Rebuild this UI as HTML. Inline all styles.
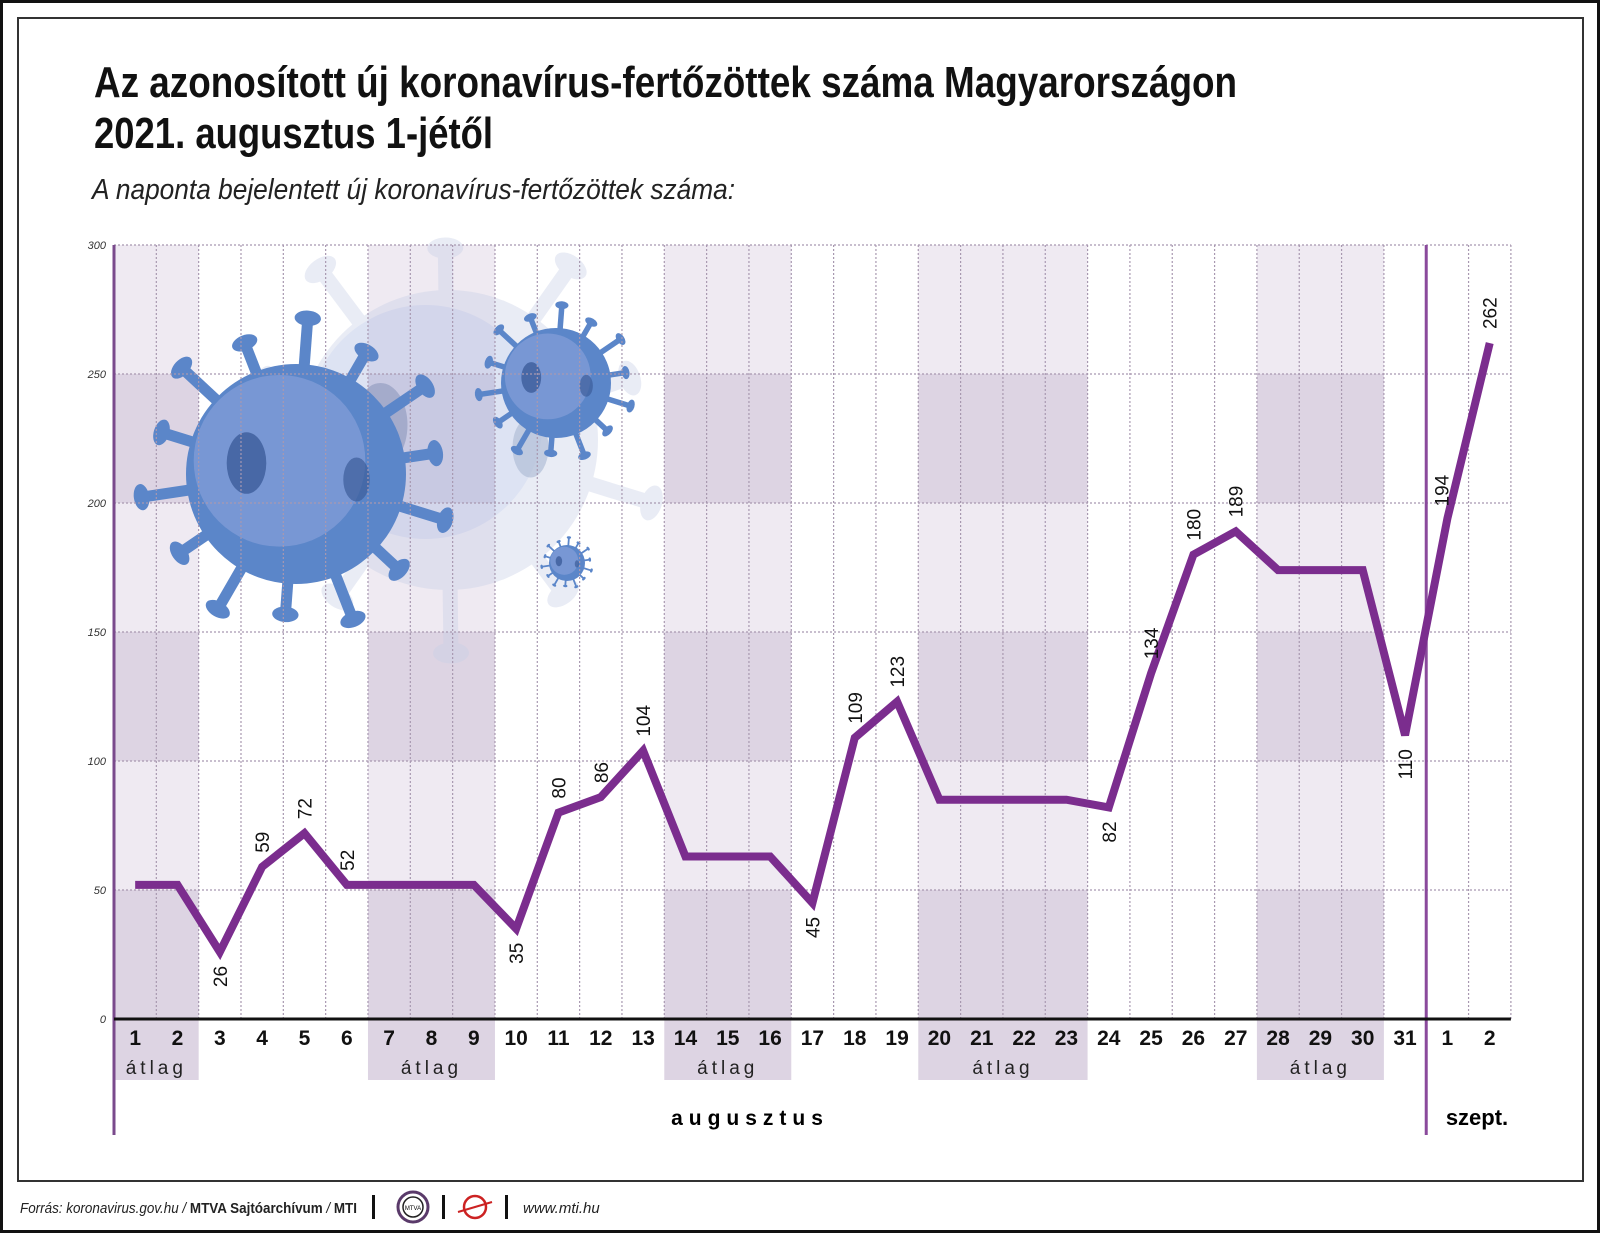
<!DOCTYPE html>
<html><head><meta charset="utf-8"><style>
html,body{margin:0;padding:0;background:#fff}
svg{display:block}
text{font-family:"Liberation Sans Narrow","Liberation Sans",sans-serif}
</style></head><body>
<svg id="chart" width="1600" height="1233" viewBox="0 0 1600 1233" xmlns="http://www.w3.org/2000/svg">
<rect x="1.5" y="1.5" width="1597" height="1230" fill="#fff" stroke="#111" stroke-width="3"/>
<rect x="18" y="18" width="1565" height="1163" fill="none" stroke="#333" stroke-width="2"/>
<text x="94" y="97" font-size="44" font-weight="bold" textLength="1143" lengthAdjust="spacingAndGlyphs" fill="#111">Az azonosított új koronavírus-fertőzöttek száma Magyarországon</text>
<text x="94" y="148" font-size="44" font-weight="bold" textLength="399" lengthAdjust="spacingAndGlyphs" fill="#111">2021. augusztus 1-jétől</text>
<text x="92" y="199" font-size="29" font-style="italic" textLength="643" lengthAdjust="spacingAndGlyphs" fill="#222">A naponta bejelentett új koronavírus-fertőzöttek száma:</text>
<g id="bands"></g>
<g id="virus"></g>
<g id="grid"></g>
<g id="axes"></g>
<g id="series"></g>
<text x="750" y="1125" font-size="21" font-weight="bold" text-anchor="middle" letter-spacing="6" font-family="Liberation Sans, sans-serif">augusztus</text>
<text x="1477" y="1125" font-size="22" font-weight="bold" text-anchor="middle">szept.</text>
<g>
<text x="20" y="1213" font-size="15" font-style="italic" fill="#222" textLength="337" lengthAdjust="spacingAndGlyphs">Forrás: koronavirus.gov.hu / <tspan font-weight="bold" font-style="normal">MTVA Sajtóarchívum</tspan> / <tspan font-weight="bold" font-style="normal">MTI</tspan></text>
<rect x="372" y="1195" width="3" height="24" fill="#111"/>
<circle cx="413" cy="1207" r="15" fill="none" stroke="#5a3a6a" stroke-width="3"/>
<circle cx="413" cy="1207" r="10" fill="none" stroke="#222" stroke-width="1.5"/>
<text x="413" y="1210" font-size="6" text-anchor="middle">MTVA</text>
<rect x="442" y="1195" width="3" height="24" fill="#111"/>
<circle cx="475" cy="1207" r="11" fill="none" stroke="#c22" stroke-width="2.5"/>
<line x1="458" y1="1212" x2="492" y2="1202" stroke="#c22" stroke-width="2"/>
<rect x="505" y="1195" width="3" height="24" fill="#111"/>
<text x="523" y="1213" font-size="15" font-style="italic" fill="#222">www.mti.hu</text>
</g>
</svg>
<script>
const dayLabels = ["1","2","3","4","5","6","7","8","9","10","11","12","13","14","15","16","17","18","19","20","21","22","23","24","25","26","27","28","29","30","31","1","2"];
const values = [52,52,26,59,72,52,52,52,52,35,80,86,104,63,63,63,45,109,123,85,85,85,85,82,134,180,189,174,174,174,110,194,262];
const valueLabels = ["","","26","59","72","52","","","","35","80","86","104","","","","45","109","123","","","","","82","134","180","189","","","","110","194","262"];
const labelBelow = [0,0,1,0,0,0,0,0,0,1,0,0,0,0,0,0,1,0,0,0,0,0,0,1,0,0,0,0,0,0,1,0,0];
const avgGroups = [[0,1],[6,8],[13,15],[19,22],[27,29]];
const yTicks = [0,50,100,150,200,250,300];

const NS="http://www.w3.org/2000/svg";
const X0=114, CW=42.33, Y0=1019, YPX=129/50;
const xs=i=>X0+CW*(i+0.5);
const ys=v=>Y0-v*YPX;
function mk(tag,attrs,parent){const e=document.createElementNS(NS,tag);for(const k in attrs)e.setAttribute(k,attrs[k]);parent.appendChild(e);return e;}
const bands=document.getElementById('bands'),grid=document.getElementById('grid'),axes=document.getElementById('axes'),series=document.getElementById('series'),virus=document.getElementById('virus');

avgGroups.forEach(g=>{
  const x=X0+CW*g[0], w=CW*(g[1]-g[0]+1);
  for(let k=0;k<6;k++){
    const r=mk('rect',{x:x,y:ys((k+1)*50),width:w,height:50*YPX,fill:k%2===0?'#ddd4e3':'#efeaf2'},bands);
    
    
  }
  const b=mk('rect',{x:x,y:Y0,width:w,height:61,fill:'#ddd4e3'},bands);
  
  
  const t=mk('text',{x:x+w/2,y:1074,'font-size':19,'text-anchor':'middle','letter-spacing':4,fill:'#222','font-family':'Liberation Sans, sans-serif'},bands);
  t.textContent='átlag';
  
  
});

function drawVirus(cx,cy,r,col,op,spikes){
  const g=mk('g',{opacity:op},virus);
  for(let i=0;i<spikes;i++){
    const a=i*2*Math.PI/spikes+0.3, l=(i%2?0.28:0.42)*r;
    const x1=cx+Math.cos(a)*r*0.9,y1=cy+Math.sin(a)*r*0.9,x2=cx+Math.cos(a)*(r+l),y2=cy+Math.sin(a)*(r+l);
    mk('line',{x1:x1,y1:y1,x2:x2,y2:y2,stroke:col,'stroke-width':r*0.1},g);
    mk('ellipse',{cx:x2,cy:y2,rx:r*0.12,ry:r*0.07,fill:col,transform:`rotate(${a*180/Math.PI+90} ${x2} ${y2})`},g);
  }
  mk('circle',{cx:cx,cy:cy,r:r,fill:col},g);
  mk('circle',{cx:cx-r*0.15,cy:cy-r*0.12,r:r*0.78,fill:'#8fa6dc',opacity:0.55},g);
  mk('ellipse',{cx:cx-r*0.45,cy:cy-r*0.1,rx:r*0.18,ry:r*0.28,fill:'#3c5d9a',opacity:0.8},g);
  mk('ellipse',{cx:cx+r*0.55,cy:cy+r*0.05,rx:r*0.12,ry:r*0.2,fill:'#3c5d9a',opacity:0.7},g);
}
drawVirus(448,440,150,'#c9d0e6',0.4,10);
drawVirus(296,474,110,'#5b86c9',1,14);
drawVirus(556,383,55,'#5b86c9',1,14);
drawVirus(567,563,18,'#5b86c9',1,14);

yTicks.forEach(v=>{
  if(v>0){const l=mk('line',{x1:X0,x2:X0+CW*33,y1:ys(v),y2:ys(v),stroke:'#a898b0','stroke-width':1.2,'stroke-dasharray':'2 2'},grid);
  
  }
  const t=mk('text',{x:X0-8,y:ys(v)+4,'font-size':11,'font-style':'italic','text-anchor':'end',fill:'#333'},axes);
  t.textContent=v;
  
  
});
for(let i=1;i<=33;i++){
  if(i===31)continue;
  const l=mk('line',{x1:X0+CW*i,x2:X0+CW*i,y1:ys(300),y2:Y0,stroke:'#a898b0','stroke-width':1.2,'stroke-dasharray':'2 2'},grid);
  
  
}
const va=mk('line',{x1:X0,x2:X0,y1:ys(300),y2:1135,stroke:'#7a4a8c','stroke-width':3},axes);


const vs=mk('line',{x1:X0+CW*31,x2:X0+CW*31,y1:ys(300),y2:1135,stroke:'#8a4a9c','stroke-width':3},axes);


const xa=mk('line',{x1:X0,x2:X0+CW*33,y1:Y0,y2:Y0,stroke:'#111','stroke-width':3},axes);


dayLabels.forEach((d,i)=>{
  const t=mk('text',{x:xs(i),y:1045,'font-size':21,'font-weight':'bold','text-anchor':'middle',fill:'#111'},axes);
  t.textContent=d;
  
  
});

const p=mk('polyline',{points:values.map((v,i)=>xs(i)+','+ys(v)).join(' '),fill:'none',stroke:'#7b2d8e','stroke-width':8,'stroke-linejoin':'miter'},series);


valueLabels.forEach((s,i)=>{
  if(!s)return;
  let x=xs(i)+7, y=labelBelow[i]?ys(values[i])+14:ys(values[i])-14;
  if(i===31){x-=6;y=ys(values[i])-12;}
  const t=mk('text',{x:x,y:y,'font-size':19,fill:'#111','text-anchor':labelBelow[i]?'end':'start',transform:`rotate(-90 ${x} ${y})`},series);
  t.textContent=s;
  
  
});
</script>
</body></html>
